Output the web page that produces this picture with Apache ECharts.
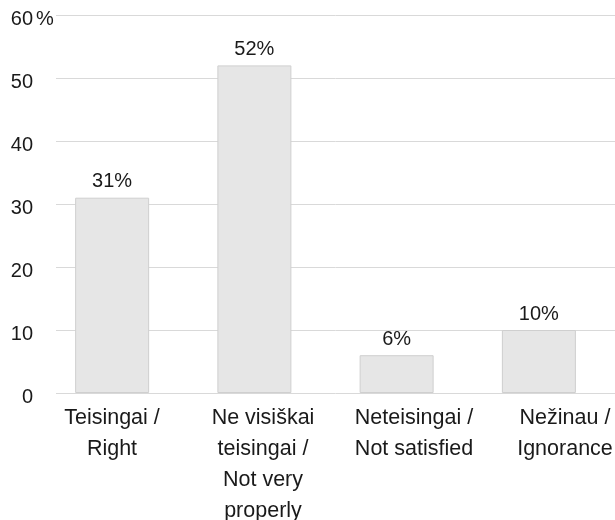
<!DOCTYPE html>
<html>
<head>
<meta charset="utf-8">
<script src="https://cdn.jsdelivr.net/npm/echarts@6/dist/echarts.min.js"></script>
<style>html,body{margin:0;padding:0;background:#fff}#c{width:615px;height:520px}</style>
</head>
<body>
<div id="c"></div>
<script>
var categories = ["Teisingai /\nRight", "Ne visiškai\nteisingai /\nNot very\nproperly", "Neteisingai /\nNot satisfied", "Nežinau /\nIgnorance"];
var values = [31, 52, 6, 10];
var yTicks = [0, 10, 20, 30, 40, 50, 60];

var font = '"Liberation Sans", Arial, Helvetica, sans-serif';
var chart = echarts.init(document.getElementById('c'));
chart.setOption({
  animation: false,
  backgroundColor: '#fff',
  textStyle: { fontFamily: font },
  grid: [
    { left: 56, right: 0, top: 15, bottom: 127, outerBoundsMode: 'none' },
    { left: 41, right: 5, top: 15, bottom: 127, outerBoundsMode: 'none' },
    { left: 36.5, width: 604, top: 15, bottom: 127, outerBoundsMode: 'none' }
  ],
  xAxis: [
    { gridIndex: 0, type: 'category', data: categories, show: false },
    { gridIndex: 1, type: 'category', data: categories, show: false },
    { gridIndex: 2, type: 'category', data: categories,
      axisLine: { show: false }, axisTick: { show: false },
      axisLabel: { interval: 0, color: '#1a1a1a', fontSize: 21.5, lineHeight: 31, margin: 10, fontFamily: font } }
  ],
  yAxis: [
    { gridIndex: 0, type: 'value', min: yTicks[0], max: yTicks[yTicks.length - 1], interval: 10,
      axisLine: { show: false }, axisTick: { show: false },
      splitLine: { lineStyle: { color: '#d9d9d9', width: 1 } },
      axisLabel: { color: '#1a1a1a', fontSize: 20, margin: 23, fontFamily: font,
        formatter: '{v|{value}}',
        rich: { v: { fontSize: 20, color: '#1a1a1a', fontFamily: font, padding: [8, 0, 0, 0] } } } },
    { gridIndex: 1, type: 'value', min: 0, max: 60, interval: 10, show: false, splitLine: { show: false } },
    { gridIndex: 2, type: 'value', min: 0, max: 60, interval: 10, show: false, splitLine: { show: false } }
  ],
  graphic: [
    { type: 'text', left: 36, top: 9, style: { text: '%', fontSize: 20, fill: '#1a1a1a', fontFamily: font } }
  ],
  series: [
    { type: 'bar', xAxisIndex: 1, yAxisIndex: 1, data: values, barWidth: 74,
      itemStyle: { color: '#e6e6e6', borderColor: '#cfcfcf', borderWidth: 1 },
      label: { show: true, position: 'top', distance: 6, formatter: '{c}%', color: '#1a1a1a', fontSize: 20, fontFamily: font } }
  ]
});
</script>
</body>
</html>
